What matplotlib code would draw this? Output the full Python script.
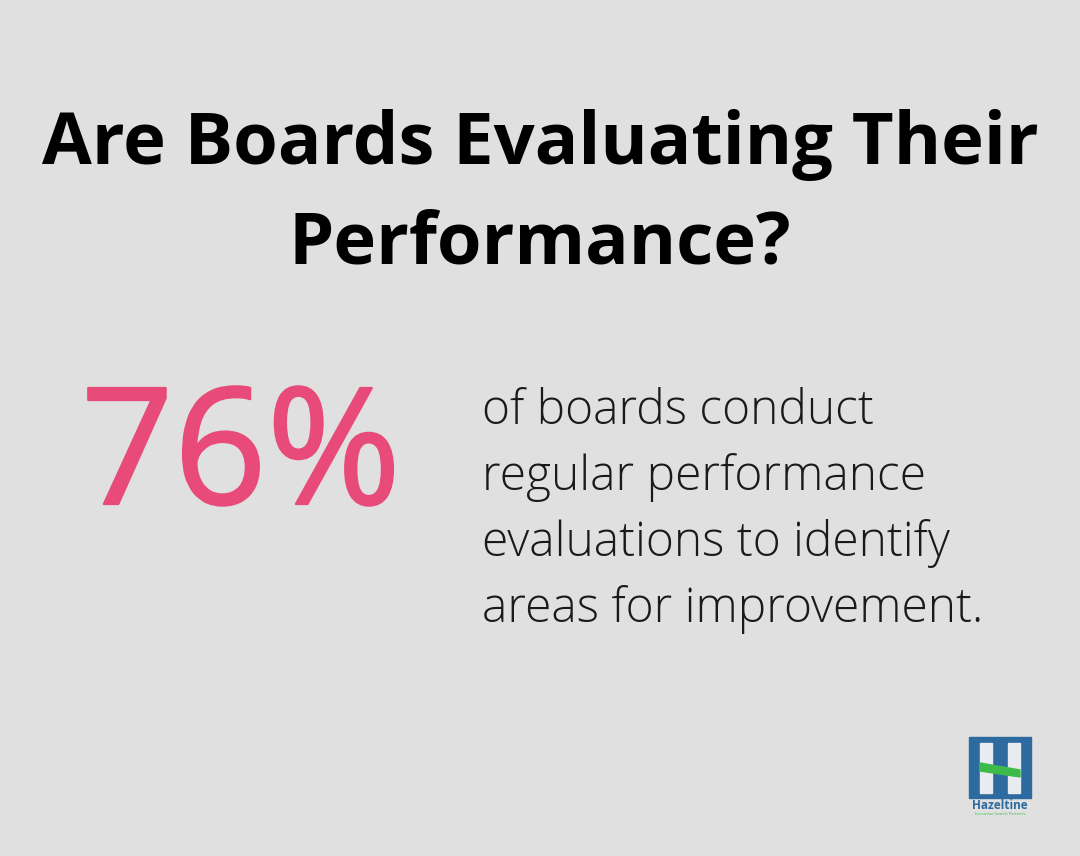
import matplotlib
matplotlib.use("Agg")
import matplotlib.pyplot as plt
import matplotlib.patheffects as pe
from matplotlib.patches import Rectangle, Polygon

title_lines = ["Are Boards Evaluating Their", "Performance?"]
stat_value = "76%"
body_lines = ["of boards conduct", "regular performance", "evaluations to identify", "areas for improvement."]
brand = "Hazeltine"
brand_sub = "Executive Search Partners"

W, H = 1080, 856
fig = plt.figure(figsize=(W/100, H/100), dpi=100)
fig.patch.set_facecolor("#dfe0df")
ax = fig.add_axes([0, 0, 1, 1])
ax.set_xlim(0, W); ax.set_ylim(H, 0); ax.axis("off")

for i, t in enumerate(title_lines):
    ax.text(540, 164 + i*100, t, ha="center", va="baseline", fontsize=52,
            fontweight="bold", family="Open Sans", color="black")

pink = "#e84a7a"
ax.text(241, 504, stat_value, ha="center", va="baseline", fontsize=117,
        family="Open Sans", color=pink,
        path_effects=[pe.Stroke(linewidth=1.6, foreground=pink), pe.Normal()])

for i, t in enumerate(body_lines):
    ax.text(482, 424 + i*66, t, ha="left", va="baseline", fontsize=34.5,
            fontweight="light", family="Open Sans", color="#1a1a1a")

# logo
bx, by, bw, bh = 969, 737, 62, 61
ax.add_patch(Rectangle((bx, by), bw, bh, color="#2d6a9f"))
ax.add_patch(Rectangle((bx+11, by+6), 12, 50, color="#e8ecf0"))
ax.add_patch(Rectangle((bx+39, by+6), 12, 50, color="#e8ecf0"))
ax.add_patch(Polygon([(bx+11, by+26), (bx+51, by+33), (bx+51, by+40), (bx+11, by+34)], color="#3dbb4a"))
ax.text(bx+bw/2, by+bh+11, brand, ha="center", va="baseline", fontsize=8.5,
        fontweight="bold", family="Open Sans", color="#2d6a9f")
ax.text(bx+bw/2, by+bh+17, brand_sub, ha="center", va="baseline", fontsize=3,
        family="Open Sans", color="#3dbb4a")

fig.savefig("out.png", dpi=100, facecolor=fig.get_facecolor())
